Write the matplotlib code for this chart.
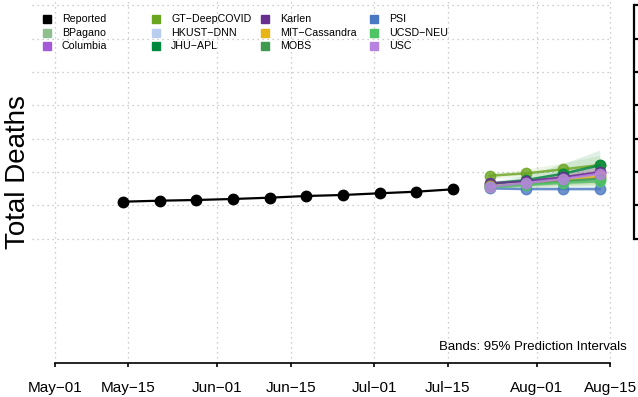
import numpy as np
import matplotlib
matplotlib.use('Agg')
import matplotlib.pyplot as plt
import matplotlib.dates as mdates
from matplotlib.lines import Line2D

plt.rcParams['font.family'] = ['Liberation Sans', 'DejaVu Sans']

# ── Data ─────────────────────────────────────────────────────────────────
reported_dates = np.array(['2020-05-14', '2020-05-21', '2020-05-28', '2020-06-04',
                           '2020-06-11', '2020-06-18', '2020-06-25', '2020-07-02',
                           '2020-07-09', '2020-07-16'], dtype='datetime64[D]')
reported = [1110, 1140, 1161, 1191, 1230, 1281, 1311, 1362, 1410, 1482]

fc_dates = np.array(['2020-07-23', '2020-07-30', '2020-08-06', '2020-08-13'],
                    dtype='datetime64[D]')

models = ['BPagano', 'Columbia', 'GT-DeepCOVID', 'HKUST-DNN', 'JHU-APL', 'Karlen',
          'MIT-Cassandra', 'MOBS', 'PSI', 'UCSD-NEU', 'USC']
colors = ['#8fbf8f', '#a45ad6', '#6aa520', '#b9cdee', '#00883f', '#67308f',
          '#e6b414', '#3d9a4f', '#4a78c2', '#4fc465', '#b883e0']

point = {
    'BPagano':       [1580, 1660, 1750, 1850],
    'Columbia':      [1610, 1700, 1830, 2000],
    'GT-DeepCOVID':  [1890, 1960, 2080, 2210],
    'HKUST-DNN':     [1600, 1680, 1780, 1880],
    'JHU-APL':       [1650, 1760, 1950, 2200],
    'Karlen':        [1660, 1720, 1840, 1990],
    'MIT-Cassandra': [1570, 1650, 1760, 1870],
    'MOBS':          [1560, 1640, 1720, 1800],
    'PSI':           [1510, 1490, 1490, 1490],
    'UCSD-NEU':      [1540, 1610, 1680, 1720],
    'USC':           [1560, 1670, 1790, 1950],
}
lower = {
    'BPagano':       [1540, 1580, 1620, 1660],
    'Columbia':      [1570, 1610, 1660, 1700],
    'GT-DeepCOVID':  [1820, 1840, 1870, 1900],
    'HKUST-DNN':     [1560, 1600, 1640, 1680],
    'JHU-APL':       [1600, 1650, 1720, 1800],
    'Karlen':        [1620, 1640, 1680, 1720],
    'MIT-Cassandra': [1530, 1560, 1600, 1640],
    'MOBS':          [1520, 1550, 1580, 1600],
    'PSI':           [1480, 1460, 1450, 1440],
    'UCSD-NEU':      [1500, 1530, 1550, 1560],
    'USC':           [1520, 1580, 1640, 1700],
}
upper = {
    'BPagano':       [1620, 1760, 1900, 2060],
    'Columbia':      [1660, 1800, 2000, 2300],
    'GT-DeepCOVID':  [1960, 2080, 2280, 2500],
    'HKUST-DNN':     [1640, 1780, 1940, 2120],
    'JHU-APL':       [1710, 1900, 2250, 2660],
    'Karlen':        [1700, 1810, 2000, 2280],
    'MIT-Cassandra': [1620, 1760, 1930, 2120],
    'MOBS':          [1600, 1740, 1880, 2040],
    'PSI':           [1540, 1530, 1540, 1550],
    'UCSD-NEU':      [1580, 1700, 1820, 1920],
    'USC':           [1600, 1760, 1960, 2200],
}

tick_dates = np.array(['2020-05-01', '2020-05-15', '2020-06-01', '2020-06-15',
                       '2020-07-01', '2020-07-15', '2020-08-01', '2020-08-15'],
                      dtype='datetime64[D]')
tick_labels = ['May\u221201', 'May\u221215', 'Jun\u221201', 'Jun\u221215',
               'Jul\u221201', 'Jul\u221215', 'Aug\u221201', 'Aug\u221215']
y_ticks = [0, 1000, 2000, 3000, 4000, 5000, 6000, 7000]

# ── Figure ───────────────────────────────────────────────────────────────
W, H = 638, 397
fig = plt.figure(figsize=(W / 100, H / 100), dpi=100)
ax = fig.add_axes([32 / W, (H - 362.7) / H, (633.5 - 32) / W, 362.7 / H])

x0 = mdates.date2num(tick_dates[0])
xt = mdates.date2num(tick_dates)
ax.set_xlim(x0 - 4.39, x0 + 110.45)
ax.set_ylim(-3720, 7160)

# dotted background grid
grid_kw = dict(color='#bdbdbd', lw=0.9, linestyle=(0, (1, 3)), zorder=0)
ax.hlines(y_ticks, ax.get_xlim()[0], xt[-1], **grid_kw)
ax.vlines(xt, -3720, 7160, **grid_kw)

# prediction bands
fc_x = mdates.date2num(fc_dates)
for m, c in zip(models, colors):
    ax.fill_between(fc_x, lower[m], upper[m], color=c, alpha=0.12, lw=0, zorder=1)

# observed
ax.plot(mdates.date2num(reported_dates), reported, color='black', lw=1.6,
        marker='o', ms=7.5, zorder=3)

# model forecasts
for m, c in zip(models, colors):
    ax.plot(fc_x, point[m], color=c, lw=1.8, marker='o', ms=7.5, alpha=0.8, zorder=2)

# axes styling
for s in ['left', 'top']:
    ax.spines[s].set_visible(False)
ax.spines['bottom'].set_bounds(xt[0], xt[-1])
ax.spines['bottom'].set_linewidth(1.2)
ax.spines['right'].set_bounds(y_ticks[0], y_ticks[-1])
ax.spines['right'].set_linewidth(1.6)

ax.set_xticks(xt)
ax.set_xticklabels(tick_labels, fontsize=11)
ax.tick_params(axis='x', direction='out', length=3, width=1.2, pad=10)
ax.yaxis.tick_right()
ax.set_yticks(y_ticks)
ax.tick_params(axis='y', direction='out', length=3, width=1.6,
               labelright=False, labelleft=False)

fig.text(18 / W, 1 - 172 / H, 'Total Deaths', rotation=90, fontsize=20,
         ha='center', va='center')
fig.text(627 / W, 1 - 347 / H, 'Bands: 95% Prediction Intervals', fontsize=9.5,
         ha='right', va='center')

# legend, column-major in 4 columns
leg_names = ['Reported'] + models
leg_colors = ['black'] + colors
for i, (name, c) in enumerate(zip(leg_names, leg_colors)):
    col, row = i // 3, i % 3
    xm = 47 + 109 * col
    ym = 19 + 13.5 * row
    fig.add_artist(Line2D([xm / W], [1 - ym / H], marker='s', ms=6, color=c,
                          linestyle='none', transform=fig.transFigure))
    fig.text((xm + 15) / W, 1 - ym / H, name.replace('-', '\u2212'), fontsize=7.7,
             ha='left', va='center')

fig.savefig('out.png', dpi=100)
